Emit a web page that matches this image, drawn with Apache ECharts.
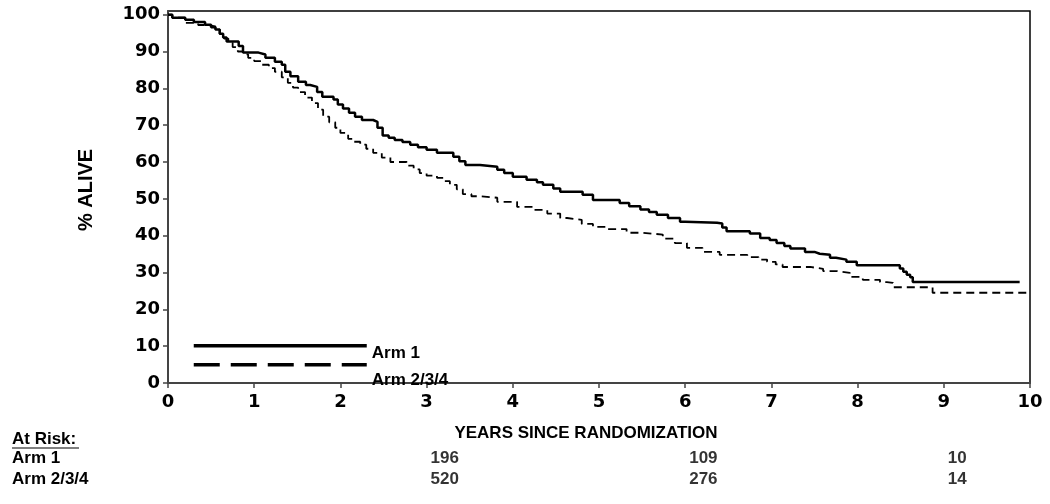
<!DOCTYPE html>
<html>
<head>
<meta charset="utf-8">
<title>Survival by arm</title>
<script src="https://cdn.jsdelivr.net/npm/echarts@6/dist/echarts.min.js"></script>
<style>
  html, body { margin: 0; padding: 0; background: #fff; }
  #chart { width: 1050px; height: 504px; }
</style>
</head>
<body>
<div id="chart"></div>
<script>
// survival curves, [years, % alive] (value after each drop)
const arm1 = [
  [0, 100], [0.05, 99.2], [0.2, 98.6], [0.3, 98], [0.43, 97.3], [0.5, 96.6], [0.55, 96],
  [0.6, 94.8], [0.64, 93.8], [0.68, 92.7], [0.82, 91.5], [0.87, 89.7], [1.05, 89.2],
  [1.13, 88.3], [1.24, 87.2], [1.32, 86.4], [1.36, 84.5], [1.42, 83.3], [1.51, 81.8],
  [1.6, 80.9], [1.65, 80.4], [1.73, 79], [1.79, 77.7], [1.92, 77], [1.97, 75.6],
  [2.03, 74.5], [2.1, 73.4], [2.17, 72.3], [2.25, 71.4], [2.38, 70.9], [2.43, 69.3],
  [2.49, 67.2], [2.56, 66.6], [2.63, 66], [2.72, 65.4], [2.81, 64.7], [2.9, 64],
  [3.0, 63.3], [3.12, 62.5], [3.31, 61.4], [3.38, 60.2], [3.45, 59.2], [3.62, 58.7],
  [3.82, 57.9], [3.9, 57], [4.0, 56], [4.16, 55.2], [4.28, 54.5], [4.35, 53.8],
  [4.47, 52.8], [4.55, 51.9], [4.81, 51.1], [4.93, 49.7], [5.24, 48.9], [5.35, 48],
  [5.48, 47.1], [5.58, 46.4], [5.67, 45.7], [5.8, 44.8], [5.94, 43.8], [6.0, 43.5],
  [6.37, 43.3], [6.43, 42.2], [6.48, 41.2], [6.75, 40.6], [6.87, 39.4], [6.98, 38.8],
  [7.06, 38], [7.15, 37.2], [7.22, 36.5], [7.39, 35.6], [7.5, 35.1], [7.56, 34.8],
  [7.68, 34], [7.75, 33.5], [7.87, 32.9], [7.99, 32], [8.49, 31.1], [8.53, 30.2],
  [8.57, 29.4], [8.61, 28.7], [8.64, 27.4], [9.88, 27.4]
];
const arm234 = [
  [0, 100], [0.05, 99.2], [0.2, 97.8], [0.35, 97.2], [0.46, 96.8], [0.55, 96],
  [0.6, 94.8], [0.65, 93.5], [0.7, 92.4], [0.75, 91.2], [0.81, 90], [0.87, 89.2],
  [0.93, 88.3], [1.0, 87.4], [1.09, 86.4], [1.17, 85.5], [1.24, 84.5], [1.32, 83],
  [1.39, 81.5], [1.45, 80.2], [1.51, 79], [1.59, 77.5], [1.67, 76], [1.74, 74.2],
  [1.8, 72.3], [1.87, 70.8], [1.94, 69.3], [2.0, 67.9], [2.09, 66.3], [2.16, 65.5],
  [2.23, 64.7], [2.3, 63.6], [2.38, 62.5], [2.48, 61.2], [2.58, 60], [2.77, 59],
  [2.85, 58], [2.92, 57], [3.0, 56.3], [3.12, 55.7], [3.2, 54.8], [3.27, 53.8],
  [3.35, 52.6], [3.42, 51.3], [3.52, 50.7], [3.62, 50.3], [3.82, 49.2], [4.05, 47.8],
  [4.23, 47], [4.4, 46], [4.55, 44.8], [4.63, 44.3], [4.8, 43.2], [4.93, 42.4],
  [5.1, 41.8], [5.32, 40.8], [5.5, 40.3], [5.74, 39.2], [5.88, 38], [6.02, 36.7],
  [6.2, 35.6], [6.4, 34.8], [6.72, 34.2], [6.85, 33.5], [6.95, 32.9], [7.05, 32.2],
  [7.13, 31.5], [7.45, 31], [7.6, 30.4], [7.76, 29.9], [7.91, 28.8], [8.06, 28],
  [8.26, 27.4], [8.34, 27.2], [8.41, 26], [8.87, 24.5], [10, 24.5]
];

const xTicks = [0, 1, 2, 3, 4, 5, 6, 7, 8, 9, 10];
const yTicks = [0, 10, 20, 30, 40, 50, 60, 70, 80, 90, 100];

// numbers at risk table
const riskRows = ['Arm 1', 'Arm 2/3/4'];
const riskTimes = [3, 6, 9];
const riskArm1 = [196, 109, 10];
const riskArm234 = [520, 276, 14];

const tickFont = { fontFamily: 'DejaVu Sans', fontWeight: 'bold', fontSize: 18, color: '#000' };
const textFont = { fontFamily: 'Liberation Sans, Arial, sans-serif', fontWeight: 'bold', color: '#000' };

const riskData = [];
riskTimes.forEach((t, i) => {
  riskData.push([t, riskRows[0], riskArm1[i]]);
  riskData.push([t, riskRows[1], riskArm234[i]]);
});

// legend text sits below its line, so push it down with rich padding
const legendText = (drop) => ({
  ...textFont, fontSize: 17,
  rich: { t: { ...textFont, fontSize: 17, padding: [drop, 0, 0, 0] } }
});

const chart = echarts.init(document.getElementById('chart'));

const option = {
  animation: false,
  backgroundColor: '#fff',
  grid: [
    { left: 168, right: 20, top: 11, bottom: 121, show: true, borderColor: '#000', borderWidth: 1.5 },
    { left: 168, right: 20, top: 448, height: 42 }
  ],
  legend: [
    {
      data: ['Arm 1'], left: 192, top: 344, padding: 0, itemWidth: 173, itemHeight: 4,
      selectedMode: false, itemStyle: { opacity: 0 },
      lineStyle: { width: 3.5, color: '#000', type: 'solid' },
      formatter: name => '{t|' + name + '}',
      textStyle: legendText(16)
    },
    {
      data: ['Arm 2/3/4'], left: 192, top: 363, padding: 0, itemWidth: 173, itemHeight: 4,
      selectedMode: false, itemStyle: { opacity: 0 },
      lineStyle: { width: 3.5, color: '#000', type: [26, 11] },
      formatter: name => '{t|' + name + '}',
      textStyle: legendText(32)
    }
  ],
  xAxis: [
    {
      type: 'value', gridIndex: 0, min: 0, max: 10, interval: 1,
      name: 'YEARS SINCE RANDOMIZATION', nameLocation: 'middle', nameGap: 42,
      nameTextStyle: { ...textFont, fontSize: 17, padding: [0, 26, 0, 0] },
      axisLine: { lineStyle: { color: '#444', width: 2 } },
      axisTick: { show: true, length: 5, lineStyle: { color: '#444', width: 1.5 }, customValues: xTicks },
      axisLabel: { ...tickFont, margin: 10, customValues: xTicks },
      splitLine: { show: false }
    },
    { type: 'value', gridIndex: 1, min: 0, max: 10, show: false }
  ],
  yAxis: [
    {
      type: 'value', gridIndex: 0, min: 0, max: 101,
      name: '% ALIVE', nameLocation: 'middle', nameGap: 72, nameRotate: 90,
      nameTextStyle: { ...textFont, fontSize: 20, padding: [0, 0, 0, 14] },
      axisLine: { show: true, lineStyle: { color: '#444', width: 2 } },
      axisTick: { show: true, length: 5, lineStyle: { color: '#444', width: 1.5 }, customValues: yTicks },
      axisLabel: { ...tickFont, margin: 8, customValues: yTicks },
      splitLine: { show: false }
    },
    {
      type: 'category', gridIndex: 1, data: riskRows, inverse: true,
      axisLine: { show: false }, axisTick: { show: false }, splitLine: { show: false },
      axisLabel: { ...textFont, fontSize: 17, align: 'left', margin: 156, interval: 0 }
    }
  ],
  series: [
    {
      name: 'Arm 1', type: 'line', step: 'end', data: arm1,
      xAxisIndex: 0, yAxisIndex: 0, symbol: 'none', color: '#000',
      lineStyle: { color: '#000', width: 2.5 }
    },
    {
      name: 'Arm 2/3/4', type: 'line', step: 'end', data: arm234,
      xAxisIndex: 0, yAxisIndex: 0, symbol: 'none', color: '#000',
      lineStyle: { color: '#000', width: 1.8, type: [8, 5] }
    },
    {
      name: 'At risk', type: 'scatter', xAxisIndex: 1, yAxisIndex: 1,
      data: riskData, symbolSize: 0, silent: true,
      label: {
        show: true, position: 'right', distance: 4, ...textFont, fontSize: 17,
        formatter: p => p.value[2]
      }
    }
  ],
  graphic: [
    { type: 'text', left: 12, top: 431, style: { text: 'At Risk:', font: 'bold 17px "Liberation Sans", Arial, sans-serif', fill: '#000' } },
    { type: 'line', shape: { x1: 12, y1: 448, x2: 79, y2: 448 }, style: { stroke: '#000', lineWidth: 1.2 } }
  ]
};

chart.setOption(option);
</script>
</body>
</html>
